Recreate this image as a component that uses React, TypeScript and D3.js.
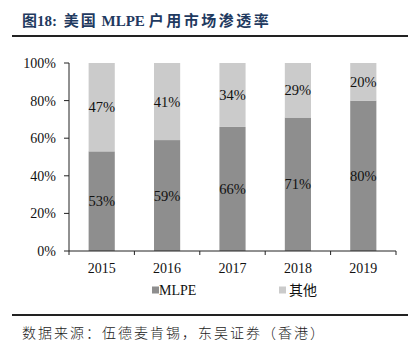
import React from "react";
import * as d3 from "d3";

const years = ["2015", "2016", "2017", "2018", "2019"];
const mlpe = [53, 59, 66, 71, 80];
const others = [47, 41, 34, 29, 20];
const yTicks = [0, 20, 40, 60, 80, 100];
const seriesNames = ["MLPE", "其他"];
const colors = ["#8e8e8e", "#cbcbcb"];

export default function App() {
  const W = 411, H = 349;
  const left = 69, right = 396, top = 63, bottom = 251;
  const x = d3.scaleBand<string>().domain(years).range([left, right]).paddingInner(0.6).paddingOuter(0.3);
  const xb = d3.scaleBand<string>().domain(years).range([left, right]);
  const y = d3.scaleLinear().domain([0, 100]).range([bottom, top]);
  const stacked = years.map((yr, i) => ({ yr, segs: [[0, mlpe[i]], [mlpe[i], mlpe[i] + others[i]]] as [number, number][] , vals: [mlpe[i], others[i]] }));
  const serif = "'Times New Roman', 'Liberation Serif', serif";
  const cjk = "'Noto Sans CJK SC', sans-serif";
  return (
    <svg width={W} height={H} style={{ position: "absolute", left: 0, top: 0 }}>
      <rect width={W} height={H} fill="#fff" />
      <text x={22} y={26} fontSize={15} fontWeight="bold" fill="#1f3a60" fontFamily={`${serif}`}>
        <tspan fontFamily={cjk}>图</tspan>
        <tspan>18: </tspan>
        <tspan fontFamily={cjk} dx={3} letterSpacing={2}>美国</tspan>
        <tspan> MLPE </tspan>
        <tspan fontFamily={cjk} letterSpacing={2.5}>户用市场渗透率</tspan>
      </text>
      <line x1={12} x2={408} y1={36} y2={36} stroke="#222" strokeWidth={2} />
      {stacked.map((d) =>
        d.segs.map((s, k) => (
          <rect key={d.yr + k} x={x(d.yr)} width={x.bandwidth()} y={y(s[1])} height={y(s[0]) - y(s[1])} fill={colors[k]} />
        ))
      )}
      {stacked.map((d) =>
        d.segs.map((s, k) => (
          <text key={"l" + d.yr + k} x={(x(d.yr) as number) + x.bandwidth() / 2} y={(y(s[0]) + y(s[1])) / 2} dy="0.35em" textAnchor="middle" fontSize={14.5} fontFamily={serif} fill="#111">
            {d.vals[k]}%
          </text>
        ))
      )}
      <line x1={left} x2={left} y1={top} y2={bottom} stroke="#222" />
      {yTicks.map((t) => (
        <g key={t}>
          <line x1={left - 5} x2={left} y1={y(t)} y2={y(t)} stroke="#222" />
          <text x={left - 13} y={y(t)} dy="0.35em" textAnchor="end" fontSize={14} fontFamily={serif} fill="#111">{t}%</text>
        </g>
      ))}
      <line x1={left} x2={right} y1={bottom} y2={bottom} stroke="#222" />
      {years.map((yr) => (
        <g key={yr}>
          <line x1={(xb(yr) as number) + xb.bandwidth()} x2={(xb(yr) as number) + xb.bandwidth()} y1={bottom} y2={bottom + 4} stroke="#222" />
          <text x={(xb(yr) as number) + xb.bandwidth() / 2} y={273} textAnchor="middle" fontSize={14} fontFamily={serif} fill="#111">{yr}</text>
        </g>
      ))}
      <line x1={left} x2={left} y1={bottom} y2={bottom + 4} stroke="#222" />
      {seriesNames.map((n, i) => (
        <g key={n} transform={`translate(${[152, 279][i]},290)`}>
          <rect x={0} y={-3.5} width={7} height={7} fill={colors[i]} />
          <text x={i === 0 ? 7 : 10} y={0} dy="0.35em" fontSize={14} fontFamily={i === 0 ? serif : cjk} fill="#111">{n}</text>
        </g>
      ))}
      <line x1={12} x2={408} y1={315} y2={315} stroke="#222" strokeWidth={2} />
      <text x={22} y={338} fontSize={14} letterSpacing={2} fontFamily={cjk} fontWeight={300} fill="#222">数据来源：伍德麦肯锡，东吴证券（香港）</text>
    </svg>
  );
}
